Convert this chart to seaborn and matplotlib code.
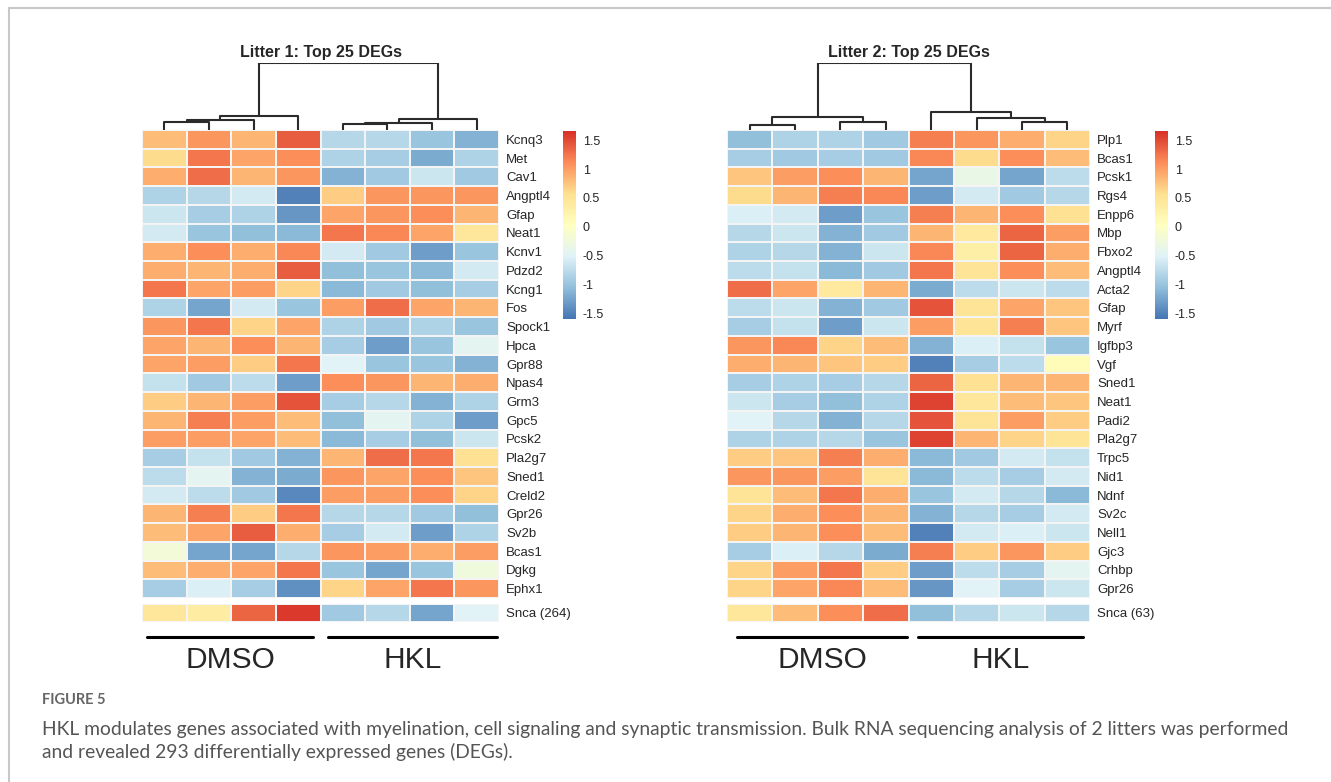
import numpy as np
import pandas as pd
import seaborn as sns
import matplotlib.pyplot as plt
from matplotlib.colors import LinearSegmentedColormap
from matplotlib.lines import Line2D

# Data: z-scored expression, 8 samples (4 DMSO, 4 HKL) per litter
samples = ["D1", "D2", "D3", "D4", "H1", "H2", "H3", "H4"]

genes1 = ["Kcnq3", "Met", "Cav1", "Angptl4", "Gfap", "Neat1", "Kcnv1", "Pdzd2",
          "Kcng1", "Fos", "Spock1", "Hpca", "Gpr88", "Npas4", "Grm3", "Gpc5",
          "Pcsk2", "Pla2g7", "Sned1", "Creld2", "Gpr26", "Sv2b", "Bcas1", "Dgkg",
          "Ephx1"]
vals1 = [
    [0.8, 1.05, 0.85, 1.4, -0.8, -0.8, -1.0, -1.15],
    [0.6, 1.25, 0.95, 1.1, -0.85, -0.9, -1.2, -0.85],
    [0.9, 1.3, 0.85, 1.05, -1.15, -0.95, -0.65, -0.95],
    [-0.85, -0.8, -0.6, -1.5, 0.7, 1.05, 1.05, 1.05],
    [-0.65, -0.9, -0.85, -1.35, 0.95, 1.05, 1.1, 0.85],
    [-0.6, -1.0, -1.05, -1.1, 1.25, 1.15, 0.95, 0.45],
    [0.9, 1.1, 0.9, 1.15, -0.6, -0.95, -1.3, -1.0],
    [0.9, 0.85, 0.9, 1.4, -1.05, -1.0, -1.1, -0.6],
    [1.25, 0.95, 1.0, 0.65, -1.1, -0.95, -1.05, -0.9],
    [-0.85, -1.25, -0.6, -1.0, 1.0, 1.3, 0.95, 0.85],
    [1.05, 1.25, 0.65, 0.95, -0.85, -0.95, -0.85, -1.0],
    [0.95, 0.85, 1.1, 0.85, -0.9, -1.3, -1.0, -0.45],
    [0.95, 1.0, 0.7, 1.25, -0.5, -1.0, -1.0, -1.15],
    [-0.7, -0.95, -0.75, -1.3, 1.1, 1.05, 0.85, 0.9],
    [0.7, 0.85, 1.0, 1.45, -0.9, -0.8, -1.15, -0.85],
    [0.85, 1.2, 1.0, 0.8, -1.05, -0.45, -0.85, -1.3],
    [1.0, 1.0, 0.95, 0.8, -1.1, -0.9, -1.05, -0.65],
    [-0.9, -0.7, -0.95, -1.15, 0.85, 1.3, 1.25, 0.55],
    [-0.75, -0.45, -1.15, -1.2, 1.05, 0.95, 1.1, 0.75],
    [-0.6, -0.75, -0.95, -1.45, 1.0, 1.0, 1.1, 0.65],
    [0.85, 1.2, 0.7, 1.25, -0.8, -0.8, -0.95, -1.05],
    [0.8, 0.95, 1.4, 0.9, -0.9, -0.6, -1.3, -0.85],
    [-0.2, -1.25, -1.25, -0.8, 1.05, 1.0, 0.9, 1.0],
    [0.8, 0.9, 0.95, 1.25, -1.0, -1.25, -1.0, -0.25],
    [-0.9, -0.55, -0.9, -1.4, 0.65, 0.95, 1.25, 1.05],
]
snca1 = [0.45, 0.35, 1.35, 1.6, -0.95, -0.8, -1.25, -0.5]

genes2 = ["Plp1", "Bcas1", "Pcsk1", "Rgs4", "Enpp6", "Mbp", "Fbxo2", "Angptl4",
          "Acta2", "Gfap", "Myrf", "Igfbp3", "Vgf", "Sned1", "Neat1", "Padi2",
          "Pla2g7", "Trpc5", "Nid1", "Ndnf", "Sv2c", "Nell1", "Gjc3", "Crhbp",
          "Gpr26"]
vals2 = [
    [-1.05, -0.85, -0.85, -0.95, 1.2, 1.05, 0.9, 0.65],
    [-0.9, -0.95, -0.9, -0.95, 1.15, 0.6, 1.1, 0.8],
    [0.75, 1.0, 1.1, 0.85, -1.25, -0.35, -1.25, -0.75],
    [0.6, 0.85, 1.2, 1.15, -1.3, -0.6, -0.95, -0.8],
    [-0.55, -0.6, -1.3, -1.0, 1.2, 0.85, 1.1, 0.55],
    [-0.8, -0.65, -1.15, -0.95, 0.85, 0.4, 1.35, 1.0],
    [-0.85, -0.8, -1.15, -0.65, 1.15, 0.3, 1.35, 0.9],
    [-0.75, -0.7, -1.1, -0.95, 1.25, 0.5, 1.1, 0.8],
    [1.3, 0.95, 0.4, 0.85, -1.2, -0.75, -0.65, -0.75],
    [-0.75, -0.65, -1.15, -0.95, 1.45, 0.5, 0.95, 0.75],
    [-0.9, -0.7, -1.3, -0.65, 1.0, 0.5, 1.2, 0.75],
    [1.05, 1.15, 0.65, 0.8, -1.15, -0.55, -0.7, -1.0],
    [0.9, 0.85, 0.75, 0.7, -1.5, -0.9, -0.75, 0.1],
    [-0.9, -0.85, -0.9, -0.8, 1.35, 0.55, 0.85, 0.85],
    [-0.65, -0.9, -1.05, -0.85, 1.55, 0.45, 0.8, 0.75],
    [-0.5, -0.8, -1.15, -0.8, 1.45, 0.5, 1.0, 0.7],
    [-0.85, -0.85, -0.8, -1.0, 1.55, 0.85, 0.65, 0.5],
    [0.7, 0.75, 1.2, 0.9, -1.1, -0.95, -0.6, -0.7],
    [1.05, 1.05, 1.0, 0.5, -1.1, -0.75, -0.9, -0.6],
    [0.5, 0.8, 1.25, 0.9, -1.0, -0.6, -0.8, -1.1],
    [0.65, 0.9, 1.1, 0.85, -1.15, -0.8, -0.9, -0.6],
    [0.7, 0.85, 1.1, 0.8, -1.5, -0.6, -0.55, -0.65],
    [-0.9, -0.55, -0.8, -1.2, 1.2, 0.7, 1.05, 0.7],
    [0.65, 1.0, 1.25, 0.7, -1.3, -0.75, -0.9, -0.45],
    [0.65, 0.95, 1.15, 0.8, -1.35, -0.5, -0.9, -0.65],
]
snca2 = [0.45, 0.8, 1.1, 1.3, -1.05, -0.8, -0.65, -0.8]

# column dendrograms (scipy-like merges: left id, right id, height)
link1 = [[0, 1, 0.111], [8, 2, 0.141], [9, 3, 0.202],
         [4, 5, 0.076], [11, 6, 0.101], [12, 7, 0.152], [10, 13, 1.0]]
link2 = [[0, 1, 0.071], [2, 3, 0.116], [8, 9, 0.182],
         [6, 7, 0.116], [5, 11, 0.167], [4, 12, 0.263], [10, 13, 1.0]]

cbar_ticks = [1.5, 1, 0.5, 0, -0.5, -1, -1.5]

# pheatmap default palette
cmap = LinearSegmentedColormap.from_list(
    "ph", ["#4575B4", "#91BFDB", "#E0F3F8", "#FFFFBF", "#FEE090", "#FC8D59", "#D73027"])
VMIN, VMAX = -1.6, 1.66

sns.set_style("white")
plt.rcParams['font.family'] = ['Liberation Sans', 'DejaVu Sans']

W, H = 1331, 782
fig = plt.figure(figsize=(W / 100, H / 100), dpi=100)


def px(x0, y0, x1, y1):
    return [x0 / W, 1 - y1 / H, (x1 - x0) / W, (y1 - y0) / H]


def dendro(ax, link, n=8):
    pos = {i: i + 0.5 for i in range(n)}
    hgt = {i: 0.0 for i in range(n)}
    for k, (a, b, h) in enumerate(link):
        xa, xb = pos[a], pos[b]
        ax.plot([xa, xa, xb, xb], [hgt[a], h, h, hgt[b]], color="#2b2b2b", lw=1.5,
                solid_capstyle="butt")
        pos[n + k] = (xa + xb) / 2
        hgt[n + k] = h
    ax.set_xlim(0, n)
    ax.set_ylim(0, 1.0)
    ax.axis("off")


def panel(x0, x1, genes, vals, snca, snca_label, link, title, cbx):
    df = pd.DataFrame(vals, index=genes, columns=samples)
    ax = fig.add_axes(px(x0, 130, x1, 598))
    cax = fig.add_axes(px(cbx, 131, cbx + 13, 319))
    sns.heatmap(df, ax=ax, cmap=cmap, vmin=VMIN, vmax=VMAX, linewidths=1.1,
                linecolor="#f4f4f4", xticklabels=False, yticklabels=True,
                cbar=True, cbar_ax=cax)
    ax.yaxis.tick_right()
    ax.tick_params(axis="y", length=0, pad=5, labelsize=9.5, rotation=0)
    ax.set_ylabel("")

    cax.set_yticks(cbar_ticks)
    cax.set_yticklabels([f"{t:g}" for t in cbar_ticks])
    cax.tick_params(length=0, pad=5, labelsize=9)
    for s in cax.spines.values():
        s.set_visible(False)

    ax2 = fig.add_axes(px(x0, 603.5, x1, 622))
    sdf = pd.DataFrame([snca], index=[snca_label], columns=samples)
    sns.heatmap(sdf, ax=ax2, cmap=cmap, vmin=VMIN, vmax=VMAX, linewidths=1.1,
                linecolor="#f4f4f4", xticklabels=False, yticklabels=True, cbar=False)
    ax2.yaxis.tick_right()
    ax2.tick_params(axis="y", length=0, pad=5, labelsize=9.5, rotation=0)
    ax2.set_ylabel("")

    axd = fig.add_axes(px(x0, 63, x1, 129.5))
    dendro(axd, link)
    fig.text((x0 + x1) / 2 / W, 1 - 53 / H, title, ha="center", va="center",
             fontsize=11.5, fontweight="bold")


panel(142, 499, genes1, vals1, snca1, "Snca (264)", link1, "Litter 1: Top 25 DEGs", 563)
panel(727, 1090, genes2, vals2, snca2, "Snca (63)", link2, "Litter 2: Top 25 DEGs", 1155)

# group bars and labels
groups = [(147, 313, "DMSO"), (328, 497, "HKL"), (737, 907, "DMSO"), (918, 1083, "HKL")]
for a, b, lab in groups:
    fig.add_artist(Line2D([a / W, b / W], [1 - 637 / H, 1 - 637 / H], color="black", lw=2.2))
    fig.text((a + b) / 2 / W, 1 - 660 / H, lab, ha="center", va="center", fontsize=21.5)

# frame
fig.add_artist(Line2D([9 / W, 1], [1 - 8 / H, 1 - 8 / H], color="#c8c8c8", lw=1.5))
fig.add_artist(Line2D([9 / W, 9 / W], [0, 1 - 8 / H], color="#c8c8c8", lw=1.5))

# caption
cap_font = ["Lato", "DejaVu Sans"]
fig.text(42 / W, 1 - 700 / H, "FIGURE 5", ha="left", va="center", fontsize=10.5,
         fontweight="bold", color="#666666", family=cap_font)
fig.text(42 / W, 1 - 729 / H,
         "HKL modulates genes associated with myelination, cell signaling and synaptic "
         "transmission. Bulk RNA sequencing analysis of 2 litters was performed",
         ha="left", va="center", fontsize=13.9, color="#555555", family=cap_font)
fig.text(42 / W, 1 - 752 / H, "and revealed 293 differentially expressed genes (DEGs).",
         ha="left", va="center", fontsize=13.9, color="#555555", family=cap_font)

fig.savefig("out.png", dpi=100)
